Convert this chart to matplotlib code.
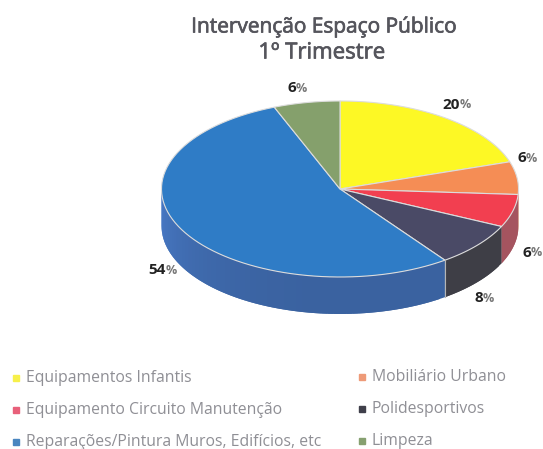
import numpy as np
import matplotlib
matplotlib.use('Agg')
import matplotlib.pyplot as plt
import matplotlib.patheffects as pe
from matplotlib.patches import Polygon

plt.rcParams['font.family'] = ['Open Sans', 'DejaVu Sans']

# Dados
categorias = ['Equipamentos Infantis', 'Mobiliário Urbano', 'Equipamento Circuito Manutenção',
              'Polidesportivos', 'Reparações/Pintura Muros, Edifícios, etc', 'Limpeza']
valores = [20, 6, 6, 8, 54, 6]
rotulos = ['20', '6', '6', '8', '54', '6']
cores_topo = ['#fdf825', '#f58d55', '#f23f50', '#4a4a66', '#2f7cc6', '#85a06c']
cores_lado = ['#c9c420', '#c06a45', '#a5545f', '#3e3e46', '#3a62a0', '#66804f']
cores_legenda = ['#f7f04a', '#ee9a78', '#e8607a', '#3f3f4a', '#4a86c0', '#86a070']

# Geometria do pie em pixels
cx, cy, rx, ry, prof = 340, 189, 178.5, 88, 37
# x = onde acaba o numero e comeca o %
pos_rotulos = [(460, 105), (526, 158), (531, 253), (483, 298), (166, 270), (296, 88)]
pos_legenda = [(16, 378), (362, 377), (16, 410), (362, 409), (16, 442), (362, 441)]

fig = plt.figure(figsize=(5.43, 4.49), dpi=100)
ax = fig.add_axes([0, 0, 1, 1])
ax.set_xlim(0, 543)
ax.set_ylim(449, 0)
ax.axis('off')


def ponto(t, dy=0):
    # t em graus, sentido horario a partir do topo
    r = np.radians(t)
    return cx + rx * np.sin(r), cy - ry * np.cos(r) + dy


limites = np.concatenate([[0], np.cumsum(valores)]) * 3.6

# Lateral, so a parte da frente (90 a 270 graus)
for i in range(len(valores)):
    ini = max(limites[i], 90)
    fim = min(limites[i + 1], 270)
    if fim <= ini:
        continue
    tt = np.append(np.arange(ini, fim, 2.0), fim)
    base = matplotlib.colors.to_rgb(cores_lado[i])
    # de tras para a frente, cada faixa cobre a emenda da anterior
    for a, b in zip(tt[:-1], tt[1:]):
        f = 1 + 0.25 * max(0, (a - 180) / 90) ** 2
        c = tuple(min(1, v * f) for v in base)
        b2 = min(b + 2, fim)
        ax.add_patch(Polygon([ponto(a), ponto(b2), ponto(b2, prof), ponto(a, prof)],
                             closed=True, fc=c, ec='none'))
    # so a emenda do azul tem linha clara
    if categorias[i].startswith('Repara'):
        x0, y0 = ponto(ini)
        ax.plot([x0, x0], [y0, y0 + prof], color='#b5b5b5', lw=0.8)

# Topo
for i in range(len(valores)):
    tt = np.linspace(limites[i], limites[i + 1], 80)
    xy = [(cx, cy)] + [ponto(t) for t in tt]
    ax.add_patch(Polygon(xy, closed=True, fc=cores_topo[i], ec='#dcdcdc', lw=0.8))

# Rotulos, numero escuro e % mais claro
for txt, (x, y) in zip(rotulos, pos_rotulos):
    ax.text(x, y, txt, ha='right', va='center', fontsize=11, fontweight='bold', color='#222222')
    ax.text(x, y, '%', ha='left', va='center', fontsize=9, fontweight='bold', color='#777777')

# Titulo
grosso = [pe.withStroke(linewidth=0.5, foreground='#55555c')]
ax.text(324, 27, 'Intervenção Espaço Público', ha='center', va='center', fontsize=15,
        color='#55555c', path_effects=grosso)
ax.text(322, 53, '1º Trimestre', ha='center', va='center', fontsize=16,
        color='#55555c', path_effects=grosso)

# Legenda
for cat, cor, (x, y) in zip(categorias, cores_legenda, pos_legenda):
    ax.plot(x, y, marker='s', ms=4, color=cor, ls='none')
    ax.text(x + 9.5, y, cat, ha='left', va='center', fontsize=11.3, color='#8f8f95')

fig.savefig('out.png', dpi=100)
